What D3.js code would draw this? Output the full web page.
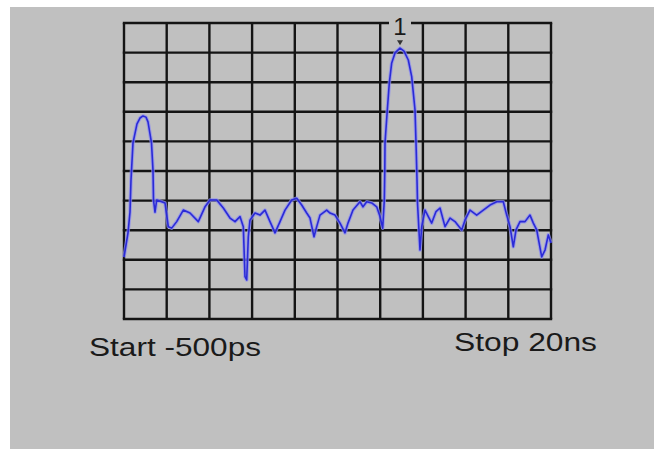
<!DOCTYPE html>
<html>
<head>
<meta charset="utf-8">
<script src="https://cdn.jsdelivr.net/npm/d3@7"></script>
<style>
  html, body { margin: 0; padding: 0; background: #ffffff; }
  svg { display: block; }
</style>
</head>
<body>
<svg id="chart" width="654" height="449"></svg>
<script>
// ---- data (time in ns, amplitude in graticule divisions from bottom) ----
const timeNs = [-0.5,-0.404,-0.308,-0.212,-0.164,-0.068,0.124,0.268,0.412,0.556,0.652,0.82,0.892,0.916,0.988,1.07,1.31,1.468,1.627,1.79,2.03,2.347,2.669,3.067,3.389,3.629,3.951,4.268,4.589,4.829,5.069,5.228,5.309,5.391,5.468,5.549,5.789,6.029,6.269,6.509,6.75,6.99,7.23,7.551,7.791,8.031,8.271,8.43,8.622,8.752,8.91,9.232,9.39,9.63,9.87,10.11,10.254,10.494,10.83,10.974,11.152,11.392,11.632,11.791,11.92,11.997,12.021,12.031,12.141,12.237,12.352,12.511,12.751,12.943,13.149,13.312,13.471,13.519,13.567,13.591,13.711,13.793,13.951,14.11,14.273,14.479,14.671,14.911,15.151,15.391,15.713,15.871,16.111,16.433,16.75,17.072,17.393,17.71,17.873,18.032,18.19,18.32,18.512,18.752,18.992,19.151,19.314,19.554,19.713,19.871,20.0];
const amplitude = [2.09,2.50,2.91,3.61,4.70,5.95,6.59,6.79,6.86,6.82,6.66,5.95,5.03,4.02,3.61,4.02,3.96,3.92,3.12,3.07,3.29,3.68,3.58,3.29,3.79,4.02,4.02,3.75,3.41,3.29,3.46,3.12,1.43,1.32,2.78,3.34,3.58,3.51,3.68,3.29,2.91,3.29,3.68,4.02,4.08,3.85,3.58,3.41,2.78,3.12,3.51,3.68,3.58,3.51,3.24,2.91,3.24,3.68,3.96,3.79,3.96,3.92,3.79,3.46,3.07,4.02,5.03,5.95,7.06,7.97,8.65,8.99,9.15,9.05,8.75,8.19,7.06,5.95,4.70,3.92,2.33,3.12,3.68,3.46,3.24,3.63,3.75,3.12,3.41,3.29,3.01,3.34,3.68,3.51,3.68,3.85,3.96,3.96,3.51,3.12,2.44,3.01,3.29,3.29,3.51,3.24,3.01,2.10,2.33,2.84,2.57];
const xDomain = [-0.5, 20];
const yDomain = [0, 10];
const divisions = 10;
const startLabel = "Start -500ps";
const stopLabel = "Stop 20ns";
const markerLabel = "1";
const markerIndex = 72;

const svg = d3.select("#chart");

// background panel
svg.append("rect").attr("x", 10).attr("y", 7).attr("width", 644).attr("height", 442).attr("fill", "#c0c0c0");

const plot = { left: 124, right: 551, top: 23, bottom: 319 };
const x = d3.scaleLinear().domain(xDomain).range([plot.left, plot.right]);
const y = d3.scaleLinear().domain(yDomain).range([plot.bottom, plot.top]);

const xGrid = d3.range(divisions + 1).map(i => xDomain[0] + i * (xDomain[1] - xDomain[0]) / divisions);
const yGrid = d3.range(divisions + 1).map(i => yDomain[0] + i * (yDomain[1] - yDomain[0]) / divisions);

const grid = svg.append("g");
grid.selectAll("line.v").data(xGrid).enter().append("line")
  .attr("x1", d => x(d)).attr("x2", d => x(d))
  .attr("y1", plot.top).attr("y2", plot.bottom)
  .attr("stroke", "#141414").attr("stroke-width", 2.4);
grid.selectAll("line.h").data(yGrid).enter().append("line")
  .attr("x1", plot.left - 1.2).attr("x2", plot.right + 1.2)
  .attr("y1", d => y(d)).attr("y2", d => y(d))
  .attr("stroke", "#141414").attr("stroke-width", 2.4);

// trace
const pts = timeNs.map((t, i) => [t, amplitude[i]]);
const line = d3.line().x(d => x(d[0])).y(d => y(d[1])).curve(d3.curveLinear);
svg.append("path").attr("d", line(pts)).attr("fill", "none")
  .attr("stroke", "#8c8cf2").attr("stroke-width", 3.6).attr("stroke-opacity", 0.75)
  .attr("stroke-linejoin", "round");
svg.append("path").attr("d", line(pts)).attr("fill", "none")
  .attr("stroke", "#2a2ad6").attr("stroke-width", 1.6)
  .attr("stroke-linejoin", "round");

// marker
const mx = x(timeNs[markerIndex]), my = y(amplitude[markerIndex]);
svg.append("rect").attr("x", mx - 11).attr("y", 14).attr("width", 22).attr("height", 16).attr("fill", "#c0c0c0");
svg.append("text").attr("x", mx).attr("y", 35).attr("text-anchor", "middle")
  .attr("font-family", "'Liberation Sans', Arial, sans-serif").attr("font-size", 24)
  .attr("fill", "#1a1a1a").text(markerLabel);
svg.append("path")
  .attr("d", `M${mx - 3},${my - 8} L${mx + 3},${my - 8} L${mx},${my - 3} Z`)
  .attr("fill", "#333");

// labels
svg.append("text").attr("x", 89).attr("y", 356)
  .attr("font-family", "'Liberation Sans', Arial, sans-serif").attr("font-size", 26)
  .attr("textLength", 172).attr("lengthAdjust", "spacingAndGlyphs")
  .attr("fill", "#1a1a1a").text(startLabel);
svg.append("text").attr("x", 454).attr("y", 351)
  .attr("font-family", "'Liberation Sans', Arial, sans-serif").attr("font-size", 26)
  .attr("textLength", 143).attr("lengthAdjust", "spacingAndGlyphs")
  .attr("fill", "#1a1a1a").text(stopLabel);
</script>
</body>
</html>
